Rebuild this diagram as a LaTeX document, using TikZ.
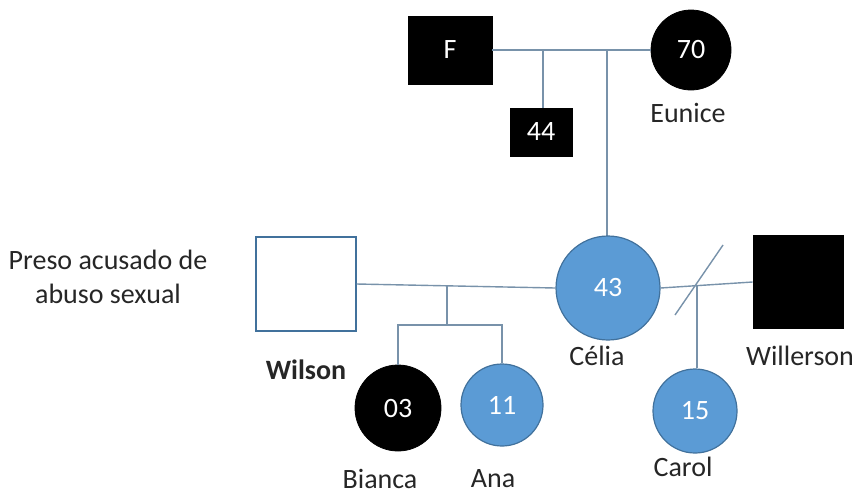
\documentclass[tikz,border=0pt]{standalone}
\usepackage{fontspec}
\setmainfont{Carlito}
\usepackage{tikz}
\usetikzlibrary{positioning,calc}

\definecolor{affblue}{RGB}{91,155,213}
\definecolor{edgeblue}{RGB}{65,113,156}
\definecolor{linegrey}{RGB}{120,146,170}

\begin{document}
\begin{tikzpicture}[x=0.5pt,y=-0.5pt,
    font=\fontsize{14}{17}\selectfont,
    male/.style={rectangle, draw=black, fill=black, text=white, inner sep=0pt},
    female/.style={circle, draw=black, fill=black, text=white, inner sep=0pt},
    bluefem/.style={circle, draw=edgeblue, fill=affblue, text=white, inner sep=0pt, line width=0.6pt},
    openmale/.style={rectangle, draw=edgeblue, fill=white, inner sep=0pt, line width=0.6pt},
    rel/.style={draw=linegrey, line width=0.7pt},
    lbl/.style={text=black!85, inner sep=0pt}]
    \useasboundingbox (0,0) rectangle (854,493);

    % grandparents
    \node[male, minimum width=42pt, minimum height=34pt] (f) at (450,50) {F};
    \node[female, minimum size=40pt] (eunice) at (691,50) {70};
    \node[lbl] (eunicetxt) at (688,113) {Eunice};
    \node[male, minimum width=31pt, minimum height=24pt] (son) at (541,132) {44};
    \draw[rel] (f.east) -- (eunice.west);
    \coordinate (sonup) at (543,50);
    \coordinate (celiaup) at (607,50);
    \draw[rel] (sonup) -- (sonup |- son.north);
    \draw[rel] (celiaup) -- (celiaup |- 0,236);

    % Celia and partners
    \node[bluefem, minimum size=52pt] (celia) at (608,288) {43};
    \node[lbl] (celiatxt) at (597,356) {Célia};
    \node[openmale, minimum width=50pt, minimum height=47pt] (wilson) at (306,284) {};
    \node[lbl, font=\fontsize{14}{17}\selectfont\bfseries] (wilsontxt) at (306,370) {Wilson};
    \node[male, minimum width=45pt, minimum height=46.5pt] (willerson) at (798,282) {};
    \node[lbl] (willersontxt) at (800,356) {Willerson};
    \node[lbl, align=center] (preso) at (108,277) {Preso acusado de\\abuso sexual};
    \draw[rel] (wilson.east) -- (celia.west);
    \draw[rel] (celia.east) -- (willerson.west);
    \coordinate (slasha) at (675,315);
    \coordinate (slashb) at (723,245);
    \draw[rel] (slasha) -- (slashb);

    % children
    \node[female, minimum size=43pt] (bianca) at (398,408) {03};
    \node[bluefem, minimum size=41pt] (ana) at (502,405) {11};
    \node[bluefem, minimum size=42pt] (carol) at (695,411) {15};
    \node[lbl] (biancatxt) at (380,479) {Bianca};
    \node[lbl] (anatxt) at (493,479) {Ana};
    \node[lbl] (caroltxt) at (683,467) {Carol};
    \coordinate (sibtop) at (447,286);
    \coordinate (sibmid) at (447,325);
    \draw[rel] (sibtop) -- (sibmid);
    \draw[rel] (bianca.north) -- (bianca.north |- sibmid) -- (ana.north |- sibmid) -- (ana.north);
    \coordinate (carolup) at (697,285);
    \draw[rel] (carolup) -- (carolup |- carol.north);
\end{tikzpicture}
\end{document}
